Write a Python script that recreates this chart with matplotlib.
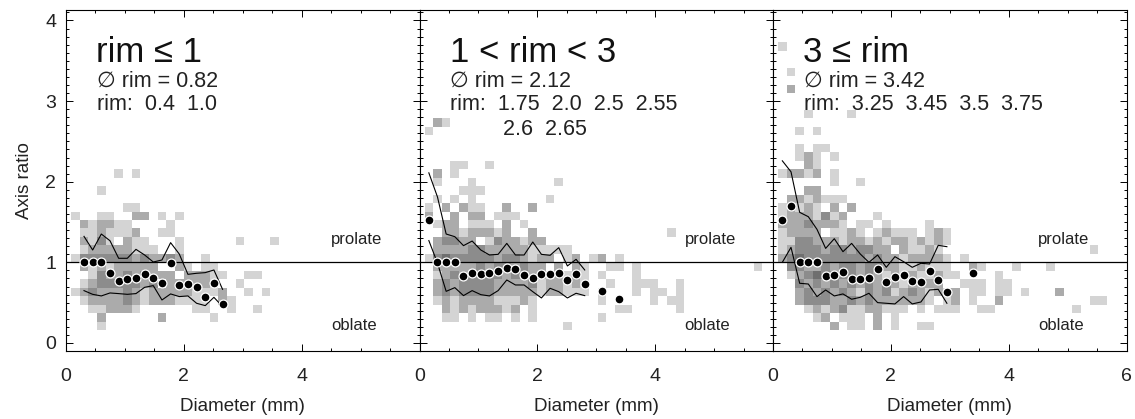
import numpy as np
import matplotlib
matplotlib.use('Agg')
import matplotlib.pyplot as plt
from matplotlib.colors import ListedColormap
from matplotlib.ticker import MultipleLocator, FixedLocator

plt.rcParams['font.family'] = ['Liberation Sans', 'DejaVu Sans']

# histogram bin geometry (diameter in mm, axis ratio)
x_edge0, x_bin = 0.085, 0.147
y_bin = 0.105
n_cols = 40

# gray level of each cell: '.' empty, 1 light ... 4 darkest; rows from top to bottom
p1_top = 10
p1_cells = [
    ".....1.1",
    "",
    "...1",
    "",
    "......11",
    "1..11..22.1.1",
    ".212211....1",
    ".1121112..11",
    ".2131.211...1......1...1",
    ".122222111..1",
    "1333333232232..1",
    ".212122222..21.11",
    "..1322323222.22211..11",
    ".123333323.222221..1",
    "123222321222221112..1.1",
    ".122223212221111.21",
    "..112221......11..1..1",
    "...2......2.....1",
    "...1",
]

p2_top = 16
p2_cells = [
    ".21",
    "1",
    "",
    "",
    "",
    "...11..1",
    ".2.1",
    ".1...1.........1",
    "....111",
    ".1.1.1........1",
    "1.2.211..2..2",
    "2..2.22.111",
    ".122.111.2.1",
    "..22122212..2...............1",
    ".23322.1322122",
    ".2222332222211111",
    "134333332332122.12.12.1",
    ".2222232332322.2.21..11.1.............1",
    ".123233332322212121.1...1",
    ".232333322223122121..1..111..1",
    ".232333322222122111.1...1.11.1",
    ".121222211121.......1.....1.11",
    "..212122212.1.........11.....1",
    "..11.1.11.1.1.......1",
    "................1",
]

p3_top = 25
p3_cells = [
    "1",
    "",
    "",
    ".1",
    "",
    ".2",
    "",
    "",
    "...1....1",
    "",
    "..1.1",
    "",
    "..1.11",
    "..121.1",
    "...21",
    "12212.1",
    "......1..1",
    "...22",
    ".2212111",
    "12121.2.2",
    "12221312...1",
    "22232221.11.1....1",
    "12222.1121.12111.121",
    "11332221221212212121",
    "1233323323322.21121.................1",
    "23433333332322122221.1",
    ".3322323323322112111..21...1...1",
    ".12343333232121211211....1",
    "..32323232323212222..111.11",
    "..2323232132312321212.11.11.1...2",
    "..2333223232222221.12.1..2..........11",
    "...121231122111.1.111..11.........1",
    "....12.111.2.1",
    "......2.11.2.1..11",
]

# mean axis ratio per diameter bin (bin index, value) and percentile curves
p1_dot_k = list(range(1, 18))
p1_dot_y = [1.0, 1.0, 1.0, 0.864, 0.773, 0.798, 0.806, 0.860, 0.810, 0.748,
            0.992, 0.723, 0.727, 0.690, 0.566, 0.748, 0.484]
p1_line_k = list(range(1, 18))
p1_upper = [1.322, 1.153, 1.351, 1.268, 1.05, 1.05, 1.161, 1.091, 1.004, 1.029,
            1.244, 1.103, 0.851, 0.864, 0.872, 0.905, 0.665]
p1_lower = [0.649, 0.603, 0.583, 0.620, 0.612, 0.603, 0.612, 0.690, 0.711, 0.533,
            0.608, 0.575, 0.583, 0.492, 0.463, 0.566, 0.451]

p2_dot_k = list(range(0, 19)) + [20, 22]
p2_dot_y = [1.525, 1.0, 1.0, 1.0, 0.835, 0.864, 0.851, 0.864, 0.888, 0.926, 0.917,
            0.843, 0.806, 0.860, 0.860, 0.864, 0.781, 0.855, 0.727, 0.648, 0.545]
p2_line_k = list(range(0, 19))
p2_upper = [2.11, 1.81, 1.351, 1.318, 1.207, 1.264, 1.153, 1.091, 1.099, 1.235,
            1.091, 1.091, 1.252, 1.099, 1.087, 1.182, 0.955, 1.037, 0.905]
p2_lower = [1.27, 0.99, 0.64, 0.686, 0.587, 0.649, 0.599, 0.583, 0.649, 0.781,
            0.719, 0.719, 0.636, 0.558, 0.678, 0.636, 0.558, 0.616, 0.587]

p3_dot_k = list(range(0, 20)) + [22]
p3_dot_y = [1.525, 1.698, 1.0, 1.0, 1.0, 0.827, 0.847, 0.876, 0.793, 0.793, 0.81,
            0.917, 0.76, 0.814, 0.847, 0.769, 0.76, 0.888, 0.781, 0.636, 0.867]
p3_line_k = list(range(0, 20))
p3_upper = [2.259, 2.123, 1.62, 1.566, 1.409, 1.173, 1.293, 1.132, 1.235, 1.103,
            1.0, 1.091, 0.938, 1.07, 1.008, 0.938, 0.988, 0.979, 1.211, 1.194]
p3_lower = [1.0, 1.186, 0.74, 0.731, 0.575, 0.657, 0.583, 0.608, 0.542, 0.566,
            0.616, 0.5, 0.492, 0.484, 0.575, 0.484, 0.508, 0.657, 0.665, 0.492]

titles = ['rim \u2264 1', '1 < rim < 3', '3 \u2264 rim']
mean_rims = ['0.82', '2.12', '3.42']
rim_lists = [['0.4  1.0'], ['1.75  2.0  2.5  2.55', '2.6  2.65'],
             ['3.25  3.45  3.5  3.75']]

panels = [
    (p1_top, p1_cells, p1_dot_k, p1_dot_y, p1_line_k, p1_upper, p1_lower),
    (p2_top, p2_cells, p2_dot_k, p2_dot_y, p2_line_k, p2_upper, p2_lower),
    (p3_top, p3_cells, p3_dot_k, p3_dot_y, p3_line_k, p3_upper, p3_lower),
]

grays = ListedColormap(['#d4d4d4', '#ababab', '#8c8c8c', '#6f6f6f'])
txt = '#222222'

W, H = 1135, 419
fig = plt.figure(figsize=(W / 100, H / 100), dpi=100)
ax_l, ax_w = 66 / W, 353.5 / W
ax_b, ax_h = (H - 351) / H, 341 / H

def centers(ks):
    return x_edge0 + x_bin * (np.asarray(ks) + 0.5)

for i, (top, cells, dk, dy, lk, up, lo) in enumerate(panels):
    ax = fig.add_axes([ax_l + i * ax_w, ax_b, ax_w, ax_h])
    grid = np.array([[0 if c == '.' else int(c) for c in r.ljust(n_cols, '.')]
                     for r in cells])[::-1]
    ny = grid.shape[0]
    xe = x_edge0 + x_bin * np.arange(n_cols + 1)
    ye = 1 + y_bin * np.arange(top - ny + 1, top + 2)
    ax.pcolormesh(xe, ye, np.ma.masked_equal(grid, 0), cmap=grays,
                  vmin=0.5, vmax=4.5, zorder=1)

    ax.axhline(1, color='black', lw=0.9, zorder=2)
    ax.plot(centers(lk), up, color='black', lw=0.8, zorder=3)
    ax.plot(centers(lk), lo, color='black', lw=0.8, zorder=3)
    ax.plot(centers(dk), dy, 'o', ms=6.4, mfc='black', mec='white', mew=0.9,
            zorder=4)

    ax.set_xlim(0, 6)
    ax.set_ylim(-0.1, 4.13)
    ax.xaxis.set_major_locator(FixedLocator([0, 2, 4, 6] if i == 2 else [0, 2, 4]))
    ax.xaxis.set_minor_locator(MultipleLocator(0.5))
    ax.yaxis.set_major_locator(MultipleLocator(1))
    ax.yaxis.set_minor_locator(MultipleLocator(0.1))
    ax.tick_params(which='both', direction='in', top=True, right=True,
                   width=0.7, labelsize=14, labelcolor=txt)
    ax.tick_params(which='major', length=5)
    ax.tick_params(which='minor', length=2.5)
    ax.tick_params(axis='x', pad=12)
    ax.tick_params(axis='y', pad=7)
    if i > 0:
        ax.tick_params(axis='y', labelleft=False)
    else:
        ax.set_ylabel('Axis ratio', fontsize=13.5, labelpad=9, color=txt)
    ax.set_xlabel('Diameter (mm)', fontsize=13.5, labelpad=9.5, color=txt)
    for s in ax.spines.values():
        s.set_linewidth(0.8)

    ax.text(0.085, 0.847, titles[i], transform=ax.transAxes, fontsize=25,
            color='#111111', va='baseline')
    ax.text(0.087, 0.776, '\u2205 rim = ' + mean_rims[i], transform=ax.transAxes,
            fontsize=15.5, color=txt, va='baseline')
    ax.text(0.087, 0.706, 'rim:  ' + rim_lists[i][0], transform=ax.transAxes,
            fontsize=15.5, color=txt, va='baseline')
    if len(rim_lists[i]) > 1:
        ax.text(0.235, 0.632, rim_lists[i][1], transform=ax.transAxes,
                fontsize=15.5, color=txt, va='baseline')
    ax.text(4.5, 1.23, 'prolate', fontsize=12, color=txt, va='baseline')
    ax.text(4.5, 0.16, 'oblate', fontsize=12, color=txt, va='baseline')

fig.savefig('out.png', dpi=100)
